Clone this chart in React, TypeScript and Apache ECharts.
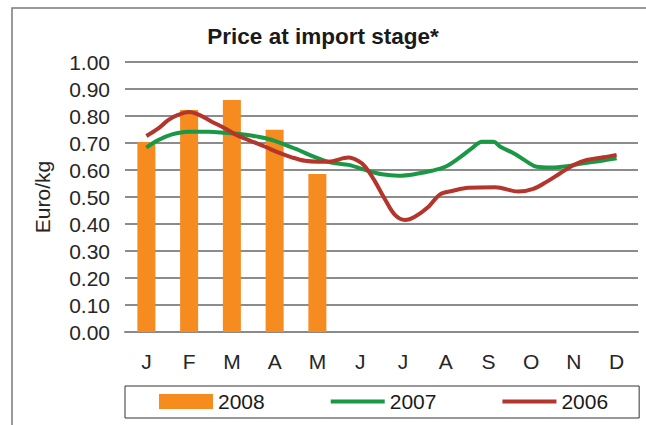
import React, { useEffect, useRef } from "react";
import * as echarts from "echarts";

const months = ["J", "F", "M", "A", "M", "J", "J", "A", "S", "O", "N", "D"];
const yTicks = [0, 0.1, 0.2, 0.3, 0.4, 0.5, 0.6, 0.7, 0.8, 0.9, 1.0];

const bars2008 = [0.704, 0.822, 0.859, 0.749, 0.585];

// position in months (0 = Jan centre, 11 = Dec centre)
const pos2007 = [0, 0.28, 0.6, 0.98, 1.45, 1.84, 2.23, 2.62, 2.94, 3.25, 3.56, 3.87, 4.18, 4.42, 4.73, 5.2, 5.51, 5.9, 6.29, 6.68, 6.99, 7.3, 7.61, 7.85, 8.12, 8.28, 8.59, 8.9, 9.13, 9.45, 9.84, 10.22, 10.61, 11];
const val2007 = [0.683, 0.711, 0.732, 0.742, 0.742, 0.738, 0.732, 0.723, 0.711, 0.693, 0.674, 0.652, 0.634, 0.625, 0.619, 0.596, 0.584, 0.579, 0.585, 0.597, 0.612, 0.643, 0.68, 0.705, 0.705, 0.686, 0.662, 0.631, 0.612, 0.609, 0.614, 0.625, 0.633, 0.643];

const pos2006 = [0, 0.28, 0.51, 0.74, 1.0, 1.21, 1.53, 1.84, 2.08, 2.39, 2.78, 3.08, 3.4, 3.71, 4.02, 4.26, 4.73, 4.96, 5.12, 5.35, 5.59, 5.82, 6.05, 6.28, 6.6, 6.87, 7.15, 7.53, 8.16, 8.7, 9.05, 9.37, 9.68, 9.99, 10.3, 10.69, 11];
const val2006 = [0.726, 0.754, 0.785, 0.804, 0.815, 0.806, 0.779, 0.754, 0.732, 0.711, 0.686, 0.665, 0.647, 0.634, 0.631, 0.631, 0.646, 0.633, 0.612, 0.557, 0.489, 0.433, 0.415, 0.427, 0.464, 0.51, 0.522, 0.534, 0.536, 0.52, 0.53, 0.557, 0.588, 0.618, 0.637, 0.647, 0.656];

const FONT = "'Liberation Sans', Arial, sans-serif";
const ORANGE = "#f68b1f";
const GREEN = "#1b9846";
const RED = "#b3352b";

export default function App() {
  const ref = useRef<HTMLDivElement>(null);

  useEffect(() => {
    if (!ref.current) return;
    const chart = echarts.init(ref.current, null, { renderer: "svg" });
    const zip = (p: number[], v: number[]) => p.map((x, i) => [x, v[i]]);
    chart.setOption({
      animation: false,
      backgroundColor: "#ffffff",
      textStyle: { fontFamily: FONT },
      title: {
        text: "Price at import stage*",
        left: 318,
        top: 20,
        textAlign: "center",
        textStyle: { fontFamily: FONT, fontSize: 22.5, fontWeight: "bold", color: "#1a1a1a" },
      },
      graphic: [
        {
          type: "rect",
          shape: { x: 12, y: 8, width: 700, height: 500 },
          style: { fill: "none", stroke: "#7a7a7a", lineWidth: 1.5 },
          silent: true,
          z: -10,
        },
      ],
      legend: {
        left: 125,
        top: 386,
        width: 490,
        padding: [5, 31, 6, 34],
        borderColor: "#333333",
        borderWidth: 1,
        itemWidth: 54,
        itemHeight: 15,
        itemGap: 64,
        lineStyle: { width: 4 },
        textStyle: { fontFamily: FONT, fontSize: 21, color: "#1a1a1a" },
        data: [
          { name: "2008", icon: "rect" },
          { name: "2007", itemStyle: { opacity: 0 } },
          { name: "2006", itemStyle: { opacity: 0 } },
        ],
      },
      grid: { left: 125, right: 8, top: 62, height: 270 },
      xAxis: [
        {
          type: "category",
          data: months,
          boundaryGap: true,
          axisLine: { lineStyle: { color: "#8a8a8a", width: 2 } },
          axisTick: { length: 6, lineStyle: { color: "#8a8a8a", width: 1.5 } },
          axisLabel: { fontFamily: FONT, fontSize: 21, color: "#262626", margin: 19, interval: 0 },
        },
        {
          type: "value",
          min: -0.5,
          max: 11.5,
          show: false,
          splitLine: { show: false },
        },
      ],
      yAxis: {
        type: "value",
        min: 0,
        max: 1,
        interval: 0.1,
        name: "Euro/kg",
        nameLocation: "middle",
        nameGap: 72,
        nameTextStyle: { fontFamily: FONT, fontSize: 21, color: "#262626" },
        axisLine: { show: false },
        axisTick: { show: false },
        axisLabel: {
          fontFamily: FONT,
          fontSize: 21,
          color: "#262626",
          margin: 15,
          formatter: (v: number) => {
            const t = yTicks.find((y) => Math.abs(y - v) < 1e-6);
            return (t ?? v).toFixed(2);
          },
        },
        splitLine: { lineStyle: { color: "#8c8c8c", width: 2 } },
      },
      series: [
        {
          name: "2008",
          type: "bar",
          xAxisIndex: 0,
          data: bars2008,
          barWidth: 18,
          itemStyle: { color: ORANGE },
          z: 2,
        },
        {
          name: "2007",
          type: "line",
          xAxisIndex: 1,
          data: zip(pos2007, val2007),
          smooth: 0.35,
          symbol: "none",
          lineStyle: { color: GREEN, width: 4 },
          itemStyle: { color: GREEN },
          z: 3,
        },
        {
          name: "2006",
          type: "line",
          xAxisIndex: 1,
          data: zip(pos2006, val2006),
          smooth: 0.35,
          symbol: "none",
          lineStyle: { color: RED, width: 4 },
          itemStyle: { color: RED },
          z: 4,
        },
      ],
    });
    return () => chart.dispose();
  }, []);

  return (
    <div
      ref={ref}
      style={{ position: "fixed", left: 0, top: 0, width: 646, height: 425 }}
    />
  );
}
